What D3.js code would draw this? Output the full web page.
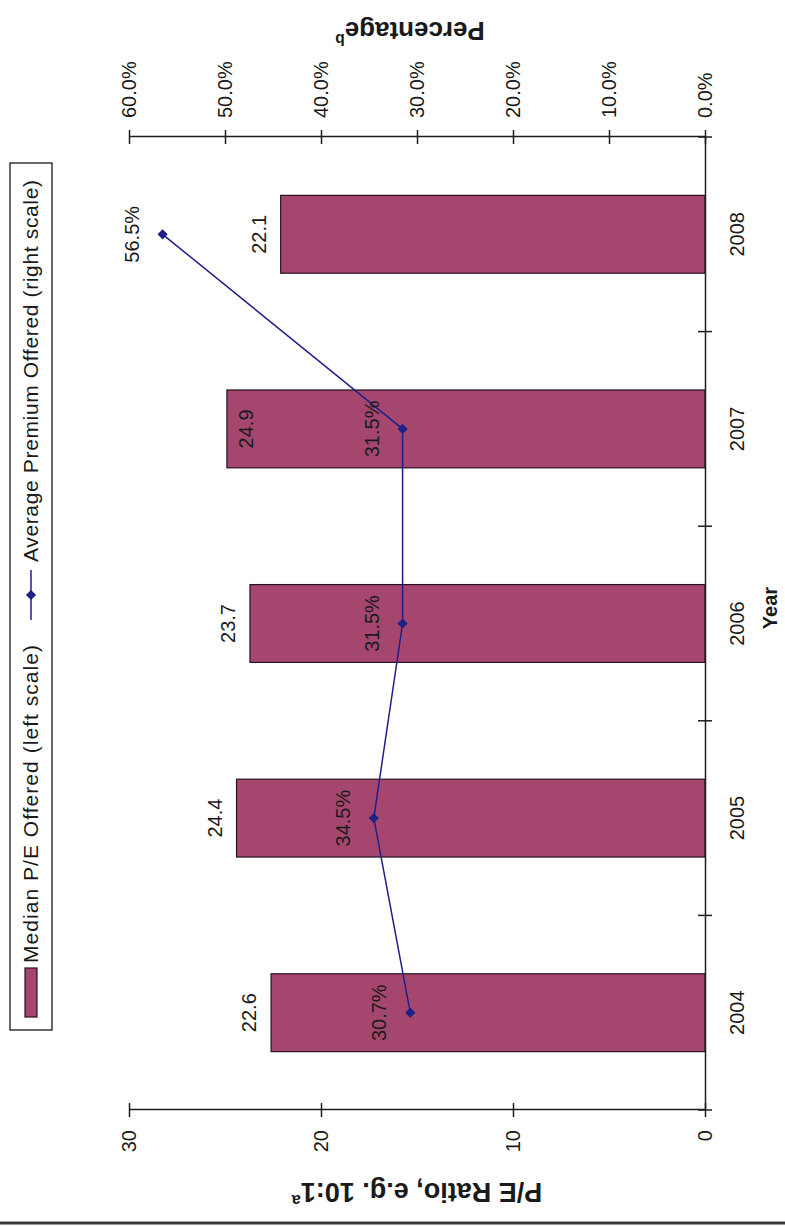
<!DOCTYPE html>
<html><head><meta charset="utf-8">
<script src="https://cdn.jsdelivr.net/npm/d3@7"></script>
<style>
body{margin:0;background:#fff}
svg{display:block}
text{font-family:"Liberation Sans",Arial,sans-serif;fill:#1a1a1a}
</style>
</head><body><div id="chart"></div>
<script>
// ---- data ----
const years = ["2004", "2005", "2006", "2007", "2008"];
const medianPE = [22.6, 24.4, 23.7, 24.9, 22.1];
const avgPremium = [0.307, 0.345, 0.315, 0.315, 0.565];
const peTicks = [0, 10, 20, 30];
const pctTicks = [0, 0.1, 0.2, 0.3, 0.4, 0.5, 0.6];
const legendLabels = ["Median P/E Offered (left scale)", "Average Premium Offered (right scale)"];
const axisTitles = {pe: "P/E Ratio, e.g. 10:1", peNote: "a", pct: "Percentage", pctNote: "b", x: "Year"};

// ---- style ----
const BAR_FILL = "#a5466f", LINE_COL = "#1f1f8a", AXIS_COL = "#1e1e1e";
const FS = 20;
const insideLabelYears = ["2007"]; // label drawn inside bar in the original

const PAGE_W = 785, PAGE_H = 1226;
const svg = d3.select("#chart").append("svg").attr("width", PAGE_W).attr("height", PAGE_H);
// the chart is drawn in a normal frame and turned a quarter turn counter-clockwise
const g = svg.append("g").attr("transform", `translate(0,${PAGE_H}) rotate(-90)`);

const plot = {left: 116, right: 1089, top: 129, bottom: 705};
const x = d3.scaleBand().domain(years).range([plot.left, plot.right]).paddingInner(0.6).paddingOuter(0.3);
const yL = d3.scaleLinear().domain([0, 30]).range([plot.bottom, plot.top]);
const yR = d3.scaleLinear().domain([0, 0.6]).range([plot.bottom, plot.top]);

// outer border (bottom of page)
g.append("line").attr("x1", 3).attr("x2", 3).attr("y1", 0).attr("y2", PAGE_W)
  .attr("stroke", "#3a3a3a").attr("stroke-width", 3);

// bars
const rows = years.map((y, i) => ({year: y, pe: medianPE[i], pct: avgPremium[i]}));
g.append("g").selectAll("rect").data(rows).join("rect")
  .attr("x", d => x(d.year)).attr("width", x.bandwidth())
  .attr("y", d => yL(d.pe)).attr("height", d => yL(0) - yL(d.pe))
  .attr("fill", BAR_FILL).attr("stroke", "#2a1020").attr("stroke-width", 1.2);

// bar labels
g.append("g").selectAll("text").data(rows).join("text")
  .attr("x", d => x(d.year) + x.bandwidth() / 2)
  .attr("y", d => insideLabelYears.includes(d.year) ? yL(d.pe) + 26 : yL(d.pe) - 15)
  .attr("text-anchor", "middle").attr("font-size", FS)
  .text(d => d3.format(".1f")(d.pe));

// axes
function styleAxis(ax) {
  ax.attr("font-family", null).attr("font-size", null);
  ax.selectAll("text").attr("font-size", FS).attr("fill", "#1a1a1a");
  ax.select(".domain").attr("stroke", AXIS_COL).attr("stroke-width", 1.5);
  ax.selectAll(".tick line").attr("stroke", AXIS_COL).attr("stroke-width", 1.5);
}
const axL = g.append("g").attr("transform", `translate(${plot.left},0)`)
  .call(d3.axisLeft(yL).tickValues(peTicks).tickSize(7).tickSizeOuter(0).tickPadding(13).tickFormat(d3.format("d")));
axL.selectAll(".tick line").attr("x1", 7);
styleAxis(axL);

const axR = g.append("g").attr("transform", `translate(${plot.right},0)`)
  .call(d3.axisRight(yR).tickValues(pctTicks).tickSize(7).tickSizeOuter(0).tickPadding(12).tickFormat(d3.format(".1%")));
axR.selectAll(".tick line").attr("x1", -7);
styleAxis(axR);

const axB = g.append("g").attr("transform", `translate(0,${plot.bottom})`)
  .call(d3.axisBottom(x).tickSize(0).tickSizeOuter(0).tickPadding(25));
styleAxis(axB);
const step = x.step();
const bounds = years.map(d => x(d) - step * x.paddingInner() / 2).concat([plot.right]);
axB.selectAll("line.bound").data(bounds).join("line").attr("class", "bound")
  .attr("x1", d => d).attr("x2", d => d).attr("y1", -7).attr("y2", 7)
  .attr("stroke", AXIS_COL).attr("stroke-width", 1.5);

// line series
const cx = d => x(d.year) + x.bandwidth() / 2;
g.append("path").datum(rows)
  .attr("d", d3.line().x(cx).y(d => yR(d.pct)))
  .attr("fill", "none").attr("stroke", LINE_COL).attr("stroke-width", 1.5);
const diamond = d3.symbol(d3.symbolSquare, 52);
g.append("g").selectAll("path").data(rows).join("path")
  .attr("d", diamond).attr("fill", LINE_COL)
  .attr("transform", d => `translate(${cx(d)},${yR(d.pct)}) rotate(45)`);
g.append("g").selectAll("text").data(rows).join("text")
  .attr("x", cx).attr("y", d => yR(d.pct) - 24)
  .attr("text-anchor", "middle").attr("font-size", FS)
  .text(d => d3.format(".1%")(d.pct));

// axis titles
function title(tx, ty, rot, main, note, size) {
  const t = g.append("text").attr("transform", `translate(${tx},${ty}) rotate(${rot})`)
    .attr("text-anchor", "middle").attr("font-weight", "bold").attr("font-size", size);
  t.append("tspan").text(main);
  if (note) t.append("tspan").attr("font-size", size * 0.6).attr("dy", -size * 0.45).text(note);
}
title(43, (plot.top + plot.bottom) / 2, -90, axisTitles.pe, axisTitles.peNote, 27);
title(1204, 410, -90, axisTitles.pct, axisTitles.pctNote, 26);
title(618, 777, 0, axisTitles.x, null, 20);

// legend
const lg = g.append("g");
lg.append("rect").attr("x", 196).attr("y", 10).attr("width", 867).attr("height", 42)
  .attr("fill", "#fff").attr("stroke", "#1a1a1a").attr("stroke-width", 1.3);
lg.append("rect").attr("x", 209).attr("y", 25).attr("width", 49).attr("height", 12)
  .attr("fill", BAR_FILL).attr("stroke", "#2a1020").attr("stroke-width", 1.2);
lg.append("text").attr("x", 263).attr("y", 31).attr("dy", "0.35em").attr("font-size", 21)
  .attr("textLength", 318).attr("lengthAdjust", "spacing").text(legendLabels[0]);
lg.append("line").attr("x1", 606).attr("x2", 656).attr("y1", 31).attr("y2", 31)
  .attr("stroke", LINE_COL).attr("stroke-width", 1.5);
lg.append("path").attr("d", diamond).attr("fill", LINE_COL).attr("transform", "translate(631,31) rotate(45)");
lg.append("text").attr("x", 664).attr("y", 31).attr("dy", "0.35em").attr("font-size", 21)
  .attr("textLength", 382).attr("lengthAdjust", "spacing").text(legendLabels[1]);
</script>
</body></html>
